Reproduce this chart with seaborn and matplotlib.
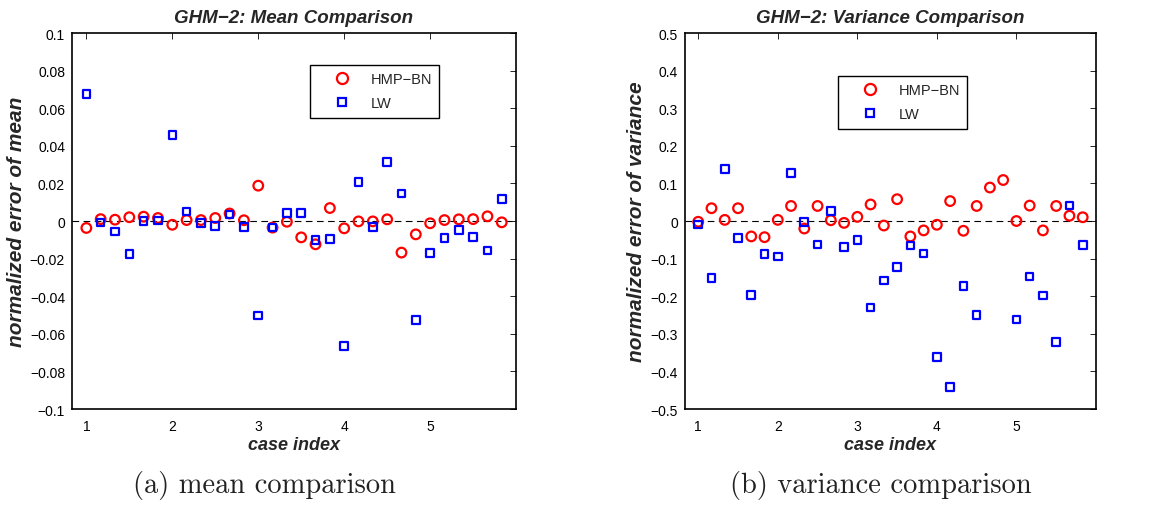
import numpy as np
import pandas as pd
import matplotlib
matplotlib.use("Agg")
import matplotlib.pyplot as plt
from matplotlib.lines import Line2D
import seaborn as sns

# case indices: 30 cases spaced 1/6 apart starting at 1
case_index = [1 + k / 6 for k in range(30)]

mean_hmp_bn = [-0.0037, 0.0010, 0.0007, 0.0020, 0.0023, 0.0016, -0.0020, 0.0005,
               0.0005, 0.0016, 0.0040, 0.0004, 0.0188, -0.0035, -0.0004, -0.0087,
               -0.0124, 0.0069, -0.0039, -0.0002, -0.0002, 0.0009, -0.0168, -0.0071,
               -0.0012, 0.0005, 0.0009, 0.0010, 0.0025, -0.0007]
mean_lw = [0.0676, -0.0007, -0.0055, -0.0175, 0.0000, 0.0002, 0.0458, 0.0051,
           -0.0009, -0.0027, 0.0034, -0.0032, -0.0503, -0.0035, 0.0044, 0.0044,
           -0.0101, -0.0097, -0.0665, 0.0209, -0.0032, 0.0313, 0.0147, -0.0527,
           -0.0170, -0.0090, -0.0048, -0.0085, -0.0156, 0.0117]

var_hmp_bn = [-0.002, 0.034, 0.003, 0.034, -0.041, -0.043, 0.003, 0.040,
              -0.020, 0.040, 0.002, -0.005, 0.011, 0.044, -0.012, 0.058,
              -0.041, -0.025, -0.010, 0.053, -0.026, 0.040, 0.089, 0.109,
              0.000, 0.041, -0.025, 0.040, 0.014, 0.010]
var_lw = [-0.009, -0.151, 0.139, -0.045, -0.197, -0.088, -0.094, 0.128,
          -0.003, -0.063, 0.027, -0.069, -0.050, -0.230, -0.158, -0.123,
          -0.065, -0.086, -0.361, -0.441, -0.173, -0.250, np.nan, np.nan,
          -0.262, -0.148, -0.198, -0.322, 0.041, -0.064]

series_names = ["HMP\u2212BN", "LW"]
x_ticks = [1, 2, 3, 4, 5]
mean_ticks = [-0.1, -0.08, -0.06, -0.04, -0.02, 0, 0.02, 0.04, 0.06, 0.08, 0.1]
mean_ticklabels = ["\u22120.1", "\u22120.08", "\u22120.06", "\u22120.04", "\u22120.02",
                   "0", "0.02", "0.04", "0.06", "0.08", "0.1"]
var_ticks = [-0.5, -0.4, -0.3, -0.2, -0.1, 0, 0.1, 0.2, 0.3, 0.4, 0.5]
var_ticklabels = ["\u22120.5", "\u22120.4", "\u22120.3", "\u22120.2", "\u22120.1",
                  "0", "0.1", "0.2", "0.3", "0.4", "0.5"]

sns.set_theme(style="white")
plt.rcParams["font.family"] = ["Liberation Sans", "DejaVu Sans"]

fig = plt.figure(figsize=(11.6, 5.06), dpi=100)
ax1 = fig.add_axes([0.0621, 0.1897, 0.3828, 0.7431])
ax2 = fig.add_axes([0.5905, 0.1897, 0.3543, 0.7431])


def draw_panel(ax, hmp, lw, title, ylabel, ylim, yticks, yticklabels, legend_anchor):
    df_h = pd.DataFrame({"case": case_index, "err": hmp})
    df_l = pd.DataFrame({"case": case_index, "err": lw})
    ax.axhline(0, color="black", linestyle=(0, (6, 4)), linewidth=0.8, zorder=1)
    sns.scatterplot(data=df_h, x="case", y="err", ax=ax, marker="o", s=48,
                    facecolors="none", edgecolor="#ff0000", linewidth=1.6,
                    legend=False, zorder=3)
    sns.scatterplot(data=df_l, x="case", y="err", ax=ax, marker="s", s=30,
                    facecolors="none", edgecolor="#0000ff", linewidth=1.6,
                    legend=False, zorder=3)
    ax.set_xlim(5 / 6, 6)
    ax.set_ylim(*ylim)
    ax.set_xticks(x_ticks)
    ax.set_xticklabels([str(t) for t in x_ticks])
    ax.set_yticks(yticks)
    ax.set_yticklabels(yticklabels)
    ax.tick_params(direction="in", length=4, width=0.6, top=True, right=True,
                   labelsize=10, colors="black", pad=5)
    ax.tick_params(axis="x", pad=7)
    for sp in ax.spines.values():
        sp.set_color("black")
        sp.set_linewidth(1.2)
    ax.set_title(title, fontsize=13.5, fontweight="bold", fontstyle="italic", pad=8)
    ax.set_xlabel("case index", fontsize=13, fontweight="bold", fontstyle="italic",
                  labelpad=2)
    ax.set_ylabel(ylabel, fontsize=15, fontweight="bold", fontstyle="italic",
                  labelpad=3)
    handles = [
        Line2D([], [], linestyle="none", marker="o", markersize=8,
               markerfacecolor="none", markeredgecolor="#ff0000", markeredgewidth=1.6),
        Line2D([], [], linestyle="none", marker="s", markersize=6,
               markerfacecolor="none", markeredgecolor="#0000ff", markeredgewidth=1.6),
    ]
    leg = ax.legend(handles, series_names, loc="upper left", bbox_to_anchor=legend_anchor,
                    frameon=True, fancybox=False, edgecolor="black", framealpha=1,
                    fontsize=10.5, handletextpad=0.25, borderpad=0.5, labelspacing=0.7,
                    handlelength=3.4, borderaxespad=0)
    leg.get_frame().set_linewidth(1.0)


draw_panel(ax1, mean_hmp_bn, mean_lw, "GHM\u22122: Mean Comparison",
           "normalized error of mean", (-0.1, 0.1), mean_ticks, mean_ticklabels,
           (0.536, 0.915))
draw_panel(ax2, var_hmp_bn, var_lw, "GHM\u22122: Variance Comparison",
           "normalized error of variance", (-0.5, 0.5), var_ticks, var_ticklabels,
           (0.372, 0.886))

fig.text(0.2276, 0.012, "(a) mean comparison", family="cmr10", fontsize=20.5,
         ha="center", va="bottom", color="#222222")
fig.text(0.7595, 0.012, "(b) variance comparison", family="cmr10", fontsize=20.5,
         ha="center", va="bottom", color="#222222")

fig.savefig("out.png", dpi=100)
